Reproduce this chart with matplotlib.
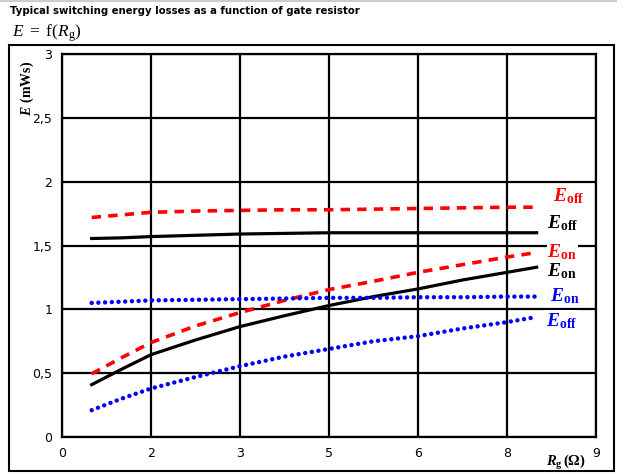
import matplotlib
matplotlib.use("Agg")
import matplotlib.pyplot as plt
from matplotlib.patches import Rectangle
from matplotlib.lines import Line2D

plt.rcParams["mathtext.fontset"] = "custom"
plt.rcParams["mathtext.rm"] = "Liberation Serif"
plt.rcParams["mathtext.it"] = "Liberation Serif:italic"
plt.rcParams["mathtext.bf"] = "Liberation Serif:bold"
plt.rcParams["mathtext.bfit"] = "Liberation Serif:italic:bold"

# Gate resistance (Ohm) and switching energies (mWs)
rg = [0.5, 1.0, 1.5, 2.25, 3.0, 3.75, 4.5, 5.25, 6.0, 6.75, 7.5, 8.0]
eoff_red = [1.72, 1.74, 1.76, 1.77, 1.775, 1.78, 1.78, 1.785, 1.79, 1.795, 1.80, 1.80]
eoff_black = [1.555, 1.56, 1.57, 1.58, 1.59, 1.595, 1.60, 1.60, 1.60, 1.60, 1.60, 1.60]
eon_red = [0.495, 0.62, 0.74, 0.87, 0.975, 1.07, 1.155, 1.22, 1.29, 1.35, 1.41, 1.445]
eon_black = [0.41, 0.53, 0.645, 0.76, 0.865, 0.95, 1.03, 1.10, 1.16, 1.23, 1.29, 1.33]
eon_blue = [1.05, 1.06, 1.07, 1.075, 1.08, 1.085, 1.09, 1.09, 1.095, 1.095, 1.10, 1.10]
eoff_blue = [0.21, 0.30, 0.38, 0.47, 0.555, 0.63, 0.69, 0.75, 0.79, 0.85, 0.90, 0.94]

x_ticks = [0, 1.5, 3, 4.5, 6, 7.5, 9]
x_ticklabels = ["0", "2", "3", "5", "6", "8", "9"]
y_ticks = [0, 0.5, 1, 1.5, 2, 2.5, 3]
y_ticklabels = ["0", "0,5", "1", "1,5", "2", "2,5", "3"]

fig = plt.figure(figsize=(6.25, 4.76), dpi=100)
ax = fig.add_axes([0.0992, 0.0819, 0.8544, 0.8046])

ax.set_xlim(0, 9)
ax.set_ylim(0, 3)
ax.set_xticks(x_ticks)
ax.set_xticklabels(x_ticklabels)
ax.set_yticks(y_ticks)
ax.set_yticklabels(y_ticklabels)
ax.tick_params(length=0, labelsize=9, pad=7)
ax.grid(True, color="black", linewidth=1.6)
for s in ax.spines.values():
    s.set_linewidth(1.6)

ax.plot(rg, eoff_red, color="#ff0000", lw=2.6, linestyle=(0, (2.6, 2.0)))
ax.plot(rg, eoff_black, color="black", lw=2.3)
ax.plot(rg, eon_red, color="#ff0000", lw=2.6, linestyle=(0, (2.6, 2.0)))
ax.plot(rg, eon_black, color="black", lw=2.3)
ax.plot(rg, eon_blue, color="#0000ff", lw=3.2, linestyle=(0, (0.01, 1.5)),
        dash_capstyle="round")
ax.plot(rg, eoff_blue, color="#0000ff", lw=3.2, linestyle=(0, (0.01, 1.5)),
        dash_capstyle="round")

# curve labels next to the right end of each trace
labels = [
    (8.27, 1.885, r"$\mathbfit{E}_{\mathbf{off}}$", "#ff0000"),
    (8.18, 1.673, r"$\mathbfit{E}_{\mathbf{off}}$", "black"),
    (8.18, 1.445, r"$\mathbfit{E}_{\mathbf{on}}$", "#ff0000"),
    (8.18, 1.296, r"$\mathbfit{E}_{\mathbf{on}}$", "black"),
    (8.23, 1.10, r"$\mathbfit{E}_{\mathbf{on}}$", "#0000ff"),
    (8.15, 0.911, r"$\mathbfit{E}_{\mathbf{off}}$", "#0000ff"),
]
for x, y, t, c in labels:
    ax.text(x, y, t, color=c, fontsize=14, va="center", ha="left",
            bbox=dict(facecolor="white", edgecolor="none", pad=0.5))

fig.text(0.043, 0.872, r"$\mathbfit{E}$ $\mathbf{(mWs)}$", rotation=90,
         ha="center", va="top", fontsize=10)
fig.text(0.905, 0.028, r"$\mathbfit{R}_{\mathbf{g}}\,\mathbf{(\Omega)}$",
         ha="center", va="center", fontsize=10.5)

fig.text(0.016, 0.976, "Typical switching energy losses as a function of gate resistor",
         fontsize=7.3, fontweight="bold", ha="left", va="center")
fig.text(0.019, 0.930, r"$\mathit{E}\ =\ \mathrm{f}(\mathit{R}_{\mathrm{g}})$",
         fontsize=12.5, ha="left", va="center")

# outer frame and top rule
fig.add_artist(Rectangle((0.0144, 0.0105), 0.968, 0.8955, transform=fig.transFigure,
                         fill=False, edgecolor="black", linewidth=1.5))
fig.add_artist(Line2D([0.0, 0.985], [0.998, 0.998], transform=fig.transFigure,
                      color="#cccccc", linewidth=1.5))

fig.savefig("out.png", dpi=100)
